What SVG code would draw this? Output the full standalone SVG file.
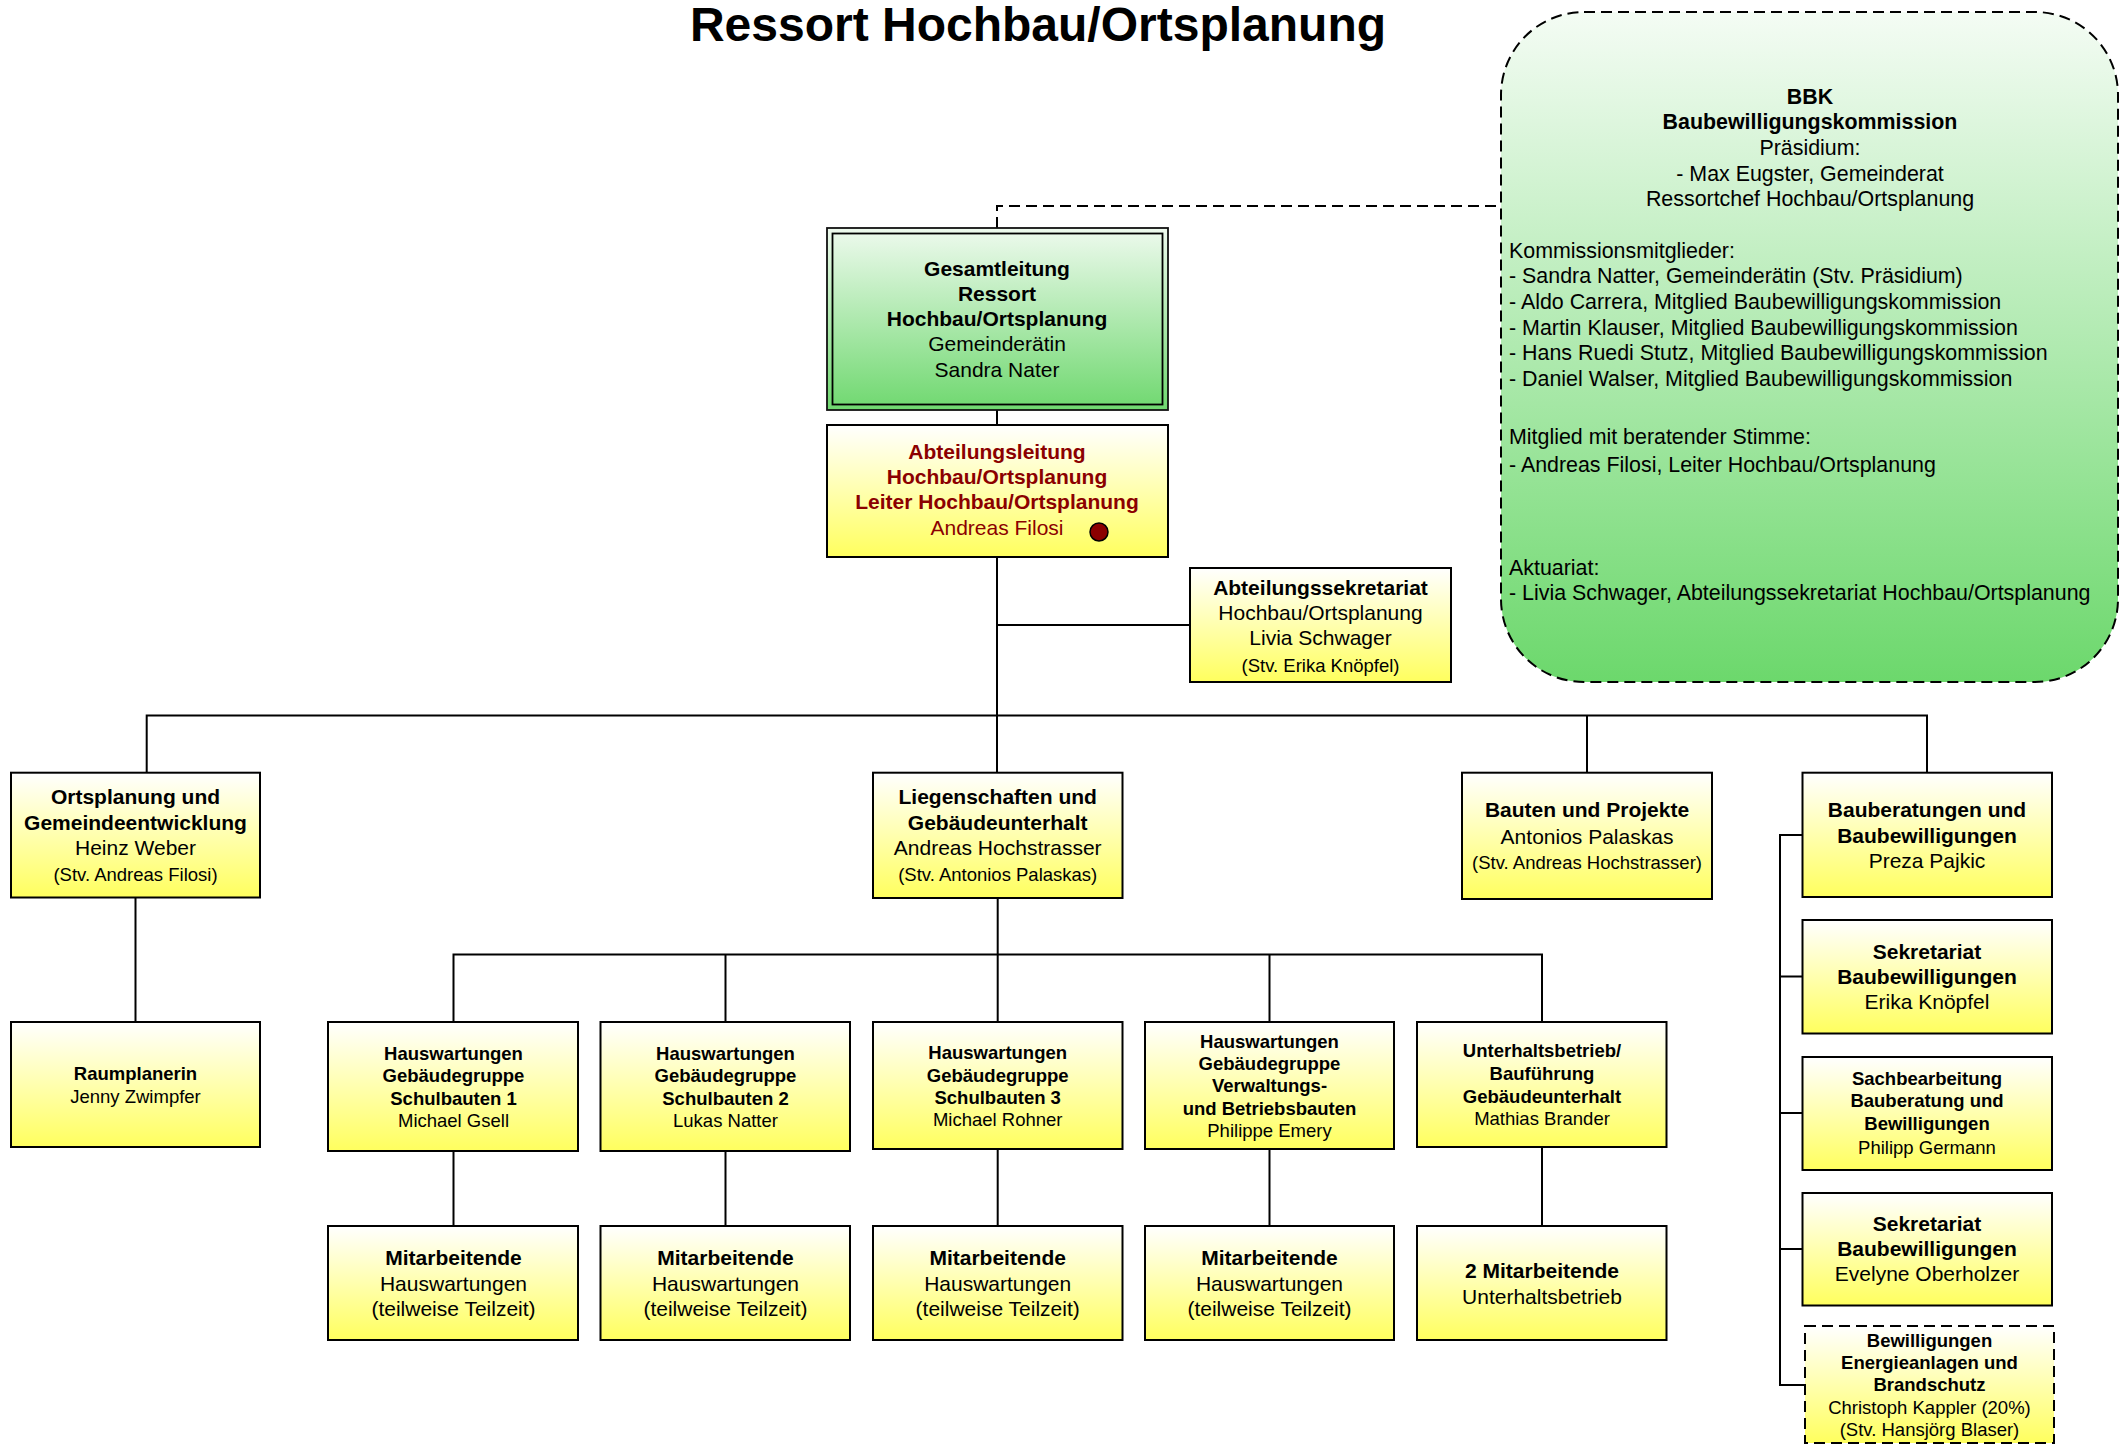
<svg xmlns="http://www.w3.org/2000/svg" width="2121" height="1444" viewBox="0 0 2121 1444">
<defs>
<linearGradient id="gy" x1="0" y1="0" x2="0" y2="1"><stop offset="0" stop-color="#FFFFFF"/><stop offset="1" stop-color="#FFFF5E"/></linearGradient>
<linearGradient id="gg" x1="0" y1="0" x2="0" y2="1"><stop offset="0" stop-color="#EEFAEE"/><stop offset="1" stop-color="#6FD86F"/></linearGradient>
<linearGradient id="gb" x1="0" y1="0" x2="0" y2="1"><stop offset="0" stop-color="#F4FCF4"/><stop offset="1" stop-color="#6CD86C"/></linearGradient>
<style>
.b{fill:url(#gy);stroke:#000;stroke-width:2}
.bd{fill:url(#gy);stroke:#000;stroke-width:2;stroke-dasharray:11 6}
.c{fill:none;stroke:#000;stroke-width:2}
.cd{fill:none;stroke:#000;stroke-width:2;stroke-dasharray:11 6}
text{font-family:"Liberation Sans",Arial,sans-serif;fill:#000}
.t{text-anchor:middle}
.L{font-size:21px}
.K{font-size:21.4px}
.S{font-size:18.5px}
.B{font-weight:bold}
.r{fill:#8B0000}
</style>
</defs>
<text x="1038" y="41" class="t B" style="font-size:48px">Ressort Hochbau/Ortsplanung</text>

<g id="connectors">
<path class="cd" d="M997,228 V206 H1501"/>
<path class="c" d="M997,410 V425"/>
<path class="c" d="M997,557 V772.7"/>
<path class="c" d="M997,625 H1190"/>
<path class="c" d="M146.7,772.7 V715.6 H1927 V772.7"/>
<path class="c" d="M1587,715.6 V772.7"/>
<path class="c" d="M135.5,897.5 V1022"/>
<path class="c" d="M997.7,898 V1022"/>
<path class="c" d="M453.5,1022 V954.4 H1542 V1022"/>
<path class="c" d="M725.5,954.4 V1022"/>
<path class="c" d="M1269.5,954.4 V1022"/>
<path class="c" d="M453.5,1151 V1226"/>
<path class="c" d="M725.5,1151 V1226"/>
<path class="c" d="M997.7,1149 V1226"/>
<path class="c" d="M1269.5,1149 V1226"/>
<path class="c" d="M1542,1147 V1226"/>
<path class="c" d="M1802.5,835 H1780 V1385 H1805"/>
<path class="c" d="M1780,976.5 H1802.5 M1780,1113 H1802.5 M1780,1249 H1802.5"/>
</g>

<g id="bbk">
<rect x="1501" y="12" width="617" height="670" rx="83" ry="83" fill="url(#gb)" stroke="#000" stroke-width="2" stroke-dasharray="11 6"/>
<text class="t K B" x="1810" y="103.5">BBK</text>
<text class="t K B" x="1810" y="129.3">Baubewilligungskommission</text>
<text class="t K" x="1810" y="155">Präsidium:</text>
<text class="t K" x="1810" y="180.7">- Max Eugster, Gemeinderat</text>
<text class="t K" x="1810" y="206.3">Ressortchef Hochbau/Ortsplanung</text>
<text class="K" x="1509" y="257.8">Kommissionsmitglieder:</text>
<text class="K" x="1509" y="283.4">- Sandra Natter, Gemeinderätin (Stv. Präsidium)</text>
<text class="K" x="1509" y="309">- Aldo Carrera, Mitglied Baubewilligungskommission</text>
<text class="K" x="1509" y="334.6">- Martin Klauser, Mitglied Baubewilligungskommission</text>
<text class="K" x="1509" y="360.3">- Hans Ruedi Stutz, Mitglied Baubewilligungskommission</text>
<text class="K" x="1509" y="386">- Daniel Walser, Mitglied Baubewilligungskommission</text>
<text class="K" x="1509" y="443.7">Mitglied mit beratender Stimme:</text>
<text class="K" x="1509" y="472">- Andreas Filosi, Leiter Hochbau/Ortsplanung</text>
<text class="K" x="1509" y="574.5">Aktuariat:</text>
<text class="K" x="1509" y="600">- Livia Schwager, Abteilungssekretariat Hochbau/Ortsplanung</text>
</g>

<g id="gesamtleitung">
<rect x="827" y="228" width="341" height="182" fill="url(#gg)" stroke="#111" stroke-width="1.8"/>
<rect x="832.5" y="233.5" width="330" height="171" fill="none" stroke="#000" stroke-width="1.8"/>
<text class="t L B" x="997" y="275.5">Gesamtleitung</text>
<text class="t L B" x="997" y="300.5">Ressort</text>
<text class="t L B" x="997" y="326">Hochbau/Ortsplanung</text>
<text class="t L" x="997" y="351">Gemeinderätin</text>
<text class="t L" x="997" y="377">Sandra Nater</text>
</g>

<g id="abteilungsleitung">
<rect class="b" x="827" y="425" width="341" height="132"/>
<text class="t L B r" x="997" y="458.5">Abteilungsleitung</text>
<text class="t L B r" x="997" y="484">Hochbau/Ortsplanung</text>
<text class="t L B r" x="997" y="509">Leiter Hochbau/Ortsplanung</text>
<text class="t L r" x="997" y="535">Andreas Filosi</text>
<circle cx="1099" cy="532" r="9" fill="#8B0000" stroke="#000" stroke-width="1.5"/>
</g>

<g id="abteilungssekretariat">
<rect class="b" x="1190" y="568" width="261" height="114"/>
<text class="t L B" x="1320.5" y="594.5">Abteilungssekretariat</text>
<text class="t L" x="1320.5" y="620">Hochbau/Ortsplanung</text>
<text class="t L" x="1320.5" y="645">Livia Schwager</text>
<text class="t S" x="1320.5" y="671.5">(Stv. Erika Knöpfel)</text>
</g>

<g id="ortsplanung">
<rect class="b" x="11" y="772.7" width="249" height="124.8"/>
<text class="t L B" x="135.5" y="803.5">Ortsplanung und</text>
<text class="t L B" x="135.5" y="830">Gemeindeentwicklung</text>
<text class="t L" x="135.5" y="855">Heinz Weber</text>
<text class="t S" x="135.5" y="880.5">(Stv. Andreas Filosi)</text>
</g>

<g id="liegenschaften">
<rect class="b" x="873" y="772.7" width="249.5" height="125.3"/>
<text class="t L B" x="997.7" y="803.5">Liegenschaften und</text>
<text class="t L B" x="997.7" y="830">Gebäudeunterhalt</text>
<text class="t L" x="997.7" y="855">Andreas Hochstrasser</text>
<text class="t S" x="997.7" y="880.5">(Stv. Antonios Palaskas)</text>
</g>

<g id="bauten">
<rect class="b" x="1462" y="772.7" width="250" height="126.3"/>
<text class="t L B" x="1587" y="816.5">Bauten und Projekte</text>
<text class="t L" x="1587" y="843.5">Antonios Palaskas</text>
<text class="t S" x="1587" y="869">(Stv. Andreas Hochstrasser)</text>
</g>

<g id="bauberatungen">
<rect class="b" x="1802.5" y="772.7" width="249.5" height="124.3"/>
<text class="t L B" x="1927" y="816.5">Bauberatungen und</text>
<text class="t L B" x="1927" y="842.5">Baubewilligungen</text>
<text class="t L" x="1927" y="867.5">Preza Pajkic</text>
</g>

<g id="sekretariat-erika">
<rect class="b" x="1802.5" y="920" width="249.5" height="113.5"/>
<text class="t L B" x="1927" y="958.5">Sekretariat</text>
<text class="t L B" x="1927" y="984.3">Baubewilligungen</text>
<text class="t L" x="1927" y="1009">Erika Knöpfel</text>
</g>

<g id="sachbearbeitung">
<rect class="b" x="1802.5" y="1057" width="249.5" height="113"/>
<text class="t S B" x="1927" y="1084.5">Sachbearbeitung</text>
<text class="t S B" x="1927" y="1106.5">Bauberatung und</text>
<text class="t S B" x="1927" y="1129.5">Bewilligungen</text>
<text class="t S" x="1927" y="1153.5">Philipp Germann</text>
</g>

<g id="sekretariat-evelyne">
<rect class="b" x="1802.5" y="1193" width="249.5" height="112.5"/>
<text class="t L B" x="1927" y="1230.5">Sekretariat</text>
<text class="t L B" x="1927" y="1256">Baubewilligungen</text>
<text class="t L" x="1927" y="1281">Evelyne Oberholzer</text>
</g>

<g id="bewilligungen-energie">
<rect class="bd" x="1805" y="1326" width="249" height="117"/>
<text class="t S B" x="1929.5" y="1346.5">Bewilligungen</text>
<text class="t S B" x="1929.5" y="1369.3">Energieanlagen und</text>
<text class="t S B" x="1929.5" y="1391">Brandschutz</text>
<text class="t S" x="1929.5" y="1413.5">Christoph Kappler (20%)</text>
<text class="t S" x="1929.5" y="1436">(Stv. Hansjörg Blaser)</text>
</g>

<g id="raumplanerin">
<rect class="b" x="11" y="1022" width="249" height="125"/>
<text class="t S B" x="135.5" y="1080">Raumplanerin</text>
<text class="t S" x="135.5" y="1102.5">Jenny Zwimpfer</text>
</g>

<g id="hw-schulbauten-1">
<rect class="b" x="328" y="1022" width="250" height="129"/>
<text class="t S B" x="453.5" y="1059.8">Hauswartungen</text>
<text class="t S B" x="453.5" y="1082">Gebäudegruppe</text>
<text class="t S B" x="453.5" y="1104.8">Schulbauten 1</text>
<text class="t S" x="453.5" y="1126.5">Michael Gsell</text>
</g>

<g id="hw-schulbauten-2">
<rect class="b" x="600.5" y="1022" width="249.5" height="129"/>
<text class="t S B" x="725.5" y="1059.8">Hauswartungen</text>
<text class="t S B" x="725.5" y="1082">Gebäudegruppe</text>
<text class="t S B" x="725.5" y="1104.8">Schulbauten 2</text>
<text class="t S" x="725.5" y="1126.5">Lukas Natter</text>
</g>

<g id="hw-schulbauten-3">
<rect class="b" x="873" y="1022" width="249.5" height="127"/>
<text class="t S B" x="997.7" y="1058.5">Hauswartungen</text>
<text class="t S B" x="997.7" y="1081.5">Gebäudegruppe</text>
<text class="t S B" x="997.7" y="1103.5">Schulbauten 3</text>
<text class="t S" x="997.7" y="1125.5">Michael Rohner</text>
</g>

<g id="hw-verwaltung">
<rect class="b" x="1145" y="1022" width="249" height="127"/>
<text class="t S B" x="1269.5" y="1047.5">Hauswartungen</text>
<text class="t S B" x="1269.5" y="1069.5">Gebäudegruppe</text>
<text class="t S B" x="1269.5" y="1092">Verwaltungs-</text>
<text class="t S B" x="1269.5" y="1114.5">und Betriebsbauten</text>
<text class="t S" x="1269.5" y="1137">Philippe Emery</text>
</g>

<g id="unterhaltsbetrieb">
<rect class="b" x="1417" y="1022" width="249.5" height="125"/>
<text class="t S B" x="1542" y="1057.3">Unterhaltsbetrieb/</text>
<text class="t S B" x="1542" y="1079.5">Bauführung</text>
<text class="t S B" x="1542" y="1102.5">Gebäudeunterhalt</text>
<text class="t S" x="1542" y="1124.5">Mathias Brander</text>
</g>

<g id="ma-1">
<rect class="b" x="328" y="1226" width="250" height="114"/>
<text class="t L B" x="453.5" y="1265">Mitarbeitende</text>
<text class="t L" x="453.5" y="1291">Hauswartungen</text>
<text class="t L" x="453.5" y="1316">(teilweise Teilzeit)</text>
</g>
<g id="ma-2">
<rect class="b" x="600.5" y="1226" width="249.5" height="114"/>
<text class="t L B" x="725.5" y="1265">Mitarbeitende</text>
<text class="t L" x="725.5" y="1291">Hauswartungen</text>
<text class="t L" x="725.5" y="1316">(teilweise Teilzeit)</text>
</g>
<g id="ma-3">
<rect class="b" x="873" y="1226" width="249.5" height="114"/>
<text class="t L B" x="997.7" y="1265">Mitarbeitende</text>
<text class="t L" x="997.7" y="1291">Hauswartungen</text>
<text class="t L" x="997.7" y="1316">(teilweise Teilzeit)</text>
</g>
<g id="ma-4">
<rect class="b" x="1145" y="1226" width="249" height="114"/>
<text class="t L B" x="1269.5" y="1265">Mitarbeitende</text>
<text class="t L" x="1269.5" y="1291">Hauswartungen</text>
<text class="t L" x="1269.5" y="1316">(teilweise Teilzeit)</text>
</g>
<g id="ma-5">
<rect class="b" x="1417" y="1226" width="249.5" height="114"/>
<text class="t L B" x="1542" y="1277.5">2 Mitarbeitende</text>
<text class="t L" x="1542" y="1303.5">Unterhaltsbetrieb</text>
</g>
</svg>
